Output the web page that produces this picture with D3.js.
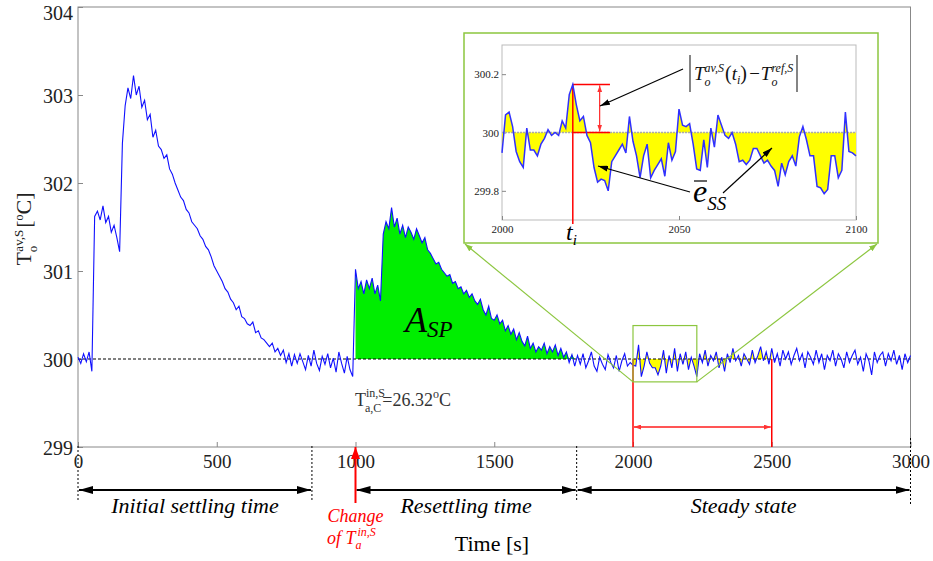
<!DOCTYPE html>
<head>
<meta charset="utf-8">
</head>
<style>
body { margin: 0; background: #fff; }
text { font-family: "Liberation Serif", "Times New Roman", serif; }
.frame { fill: none; stroke: #888; stroke-width: 1; }
.axis text { font-family: "Liberation Serif", serif; fill: #222; }
.axis line { stroke: #888; }
.axis path { display: none; }
.it { font-style: italic; }
</style>
<body>
<svg id="chart" width="933" height="561"></svg>

<script src="https://cdnjs.cloudflare.com/ajax/libs/d3/7.8.5/d3.min.js"></script>
<script>

// outlet temperature, one sample every 10 s from 0 to 3000 s
var tStep = 10;
var temps = [
  300.02, 299.95, 300.06, 299.97, 300.08, 299.86, 301.62, 301.68, 301.58, 301.74,
  301.55, 301.62, 301.44, 301.52, 301.38, 301.22, 302.45, 302.88, 303.08, 302.96,
  303.22, 303.00, 303.10, 302.86, 302.94, 302.72, 302.78, 302.52, 302.60, 302.42,
  302.38, 302.28, 302.32, 302.16, 302.10, 302.00, 301.92, 301.84, 301.80, 301.70,
  301.66, 301.56, 301.52, 301.48, 301.40, 301.36, 301.28, 301.24, 301.16, 301.06,
  301.00, 300.94, 300.88, 300.80, 300.76, 300.68, 300.64, 300.56, 300.60, 300.48,
  300.46, 300.40, 300.38, 300.42, 300.30, 300.32, 300.24, 300.22, 300.18, 300.14,
  300.18, 300.08, 300.12, 300.04, 300.10, 299.96, 300.06, 299.92, 300.05, 299.95,
  300.06, 299.97, 299.88, 300.04, 299.92, 300.10, 299.95, 299.87, 300.03, 299.94,
  300.06, 299.90, 300.01, 299.85, 300.08, 299.95, 299.84, 300.03, 299.88, 299.80,
  301.02, 300.80, 300.88, 300.74, 300.90, 300.80, 300.92, 300.74, 300.84, 300.66,
  301.42, 301.56, 301.48, 301.72, 301.50, 301.60, 301.42, 301.52, 301.38, 301.50,
  301.44, 301.36, 301.48, 301.40, 301.32, 301.38, 301.24, 301.20, 301.14, 301.08,
  301.10, 301.02, 300.98, 300.94, 300.96, 300.86, 300.88, 300.80, 300.82, 300.74,
  300.78, 300.70, 300.74, 300.66, 300.62, 300.68, 300.56, 300.50, 300.60, 300.46,
  300.44, 300.50, 300.40, 300.44, 300.32, 300.38, 300.28, 300.34, 300.22, 300.30,
  300.20, 300.15, 300.26, 300.12, 300.18, 300.08, 300.14, 300.10, 300.18, 300.06,
  300.14, 300.08, 300.16, 300.04, 300.12, 300.02, 300.08, 299.96, 300.05, 299.92,
  300.04, 299.94, 300.06, 299.90, 299.98, 300.08, 299.92, 299.86, 300.02, 299.94,
  299.88, 300.05, 299.96, 299.90, 300.04, 299.86, 299.98, 300.06, 299.92, 299.96,
  299.93, 299.92, 300.16, 299.80, 299.92, 300.08, 299.95, 299.90, 299.90, 299.82,
  299.92, 300.10, 299.84, 300.04, 299.90, 300.12, 299.86, 300.06, 299.94, 300.08,
  299.88, 300.02, 299.92, 299.80, 300.06, 299.96, 300.10, 299.92, 300.04, 299.98,
  300.08, 299.90, 300.02, 299.86, 300.06, 299.96, 300.12, 299.98, 300.04, 299.92,
  300.06, 300.00, 299.94, 300.10, 299.96, 300.04, 300.14, 299.98, 300.08, 299.94,
  300.12, 299.96, 300.06, 299.92, 300.10, 300.00, 300.08, 299.94, 300.04, 300.12,
  299.98, 300.06, 299.90, 300.08, 300.02, 299.94, 300.10, 299.96, 300.06, 299.88,
  300.04, 299.98, 300.10, 299.92, 300.06, 300.00, 299.90, 300.08, 299.96, 300.04,
  300.10, 299.94, 300.02, 299.86, 300.06, 299.98, 299.82, 300.08, 299.96, 300.04,
  300.08, 299.92, 300.06, 299.98, 300.10, 299.94, 300.04, 299.88, 300.06, 299.96,
  300.04
];

// zoomed detail, one sample per second from 2000 to 2100 s
var zoomStart = 2000;
var zoomTemps = [
  299.93, 300.06, 300.07, 300.02, 299.935, 299.90, 299.88, 300.015, 299.94, 299.94,
  299.92, 299.96, 299.98, 300.01, 299.99, 300.00, 299.99, 300.04, 300.015, 300.13,
  300.165, 300.095, 300.04, 300.055, 299.99, 299.965, 299.88, 299.83, 299.84, 299.835,
  299.80, 299.90, 299.92, 299.94, 299.96, 299.93, 300.055, 299.97, 299.92, 299.845,
  299.92, 299.96, 299.845, 299.87, 299.89, 299.91, 299.85, 299.965, 299.905, 299.935,
  300.08, 300.025, 300.02, 300.03, 299.96, 299.875, 299.87, 299.975, 299.88, 300.015,
  299.95, 300.06, 300.025, 299.99, 299.98, 300.00, 299.96, 299.90, 299.905, 299.89,
  299.905, 299.945, 299.945, 299.92, 299.895, 299.905, 299.885, 299.87, 299.815, 299.895,
  299.855, 299.90, 299.92, 299.885, 299.985, 300.02, 299.975, 299.92, 299.92, 299.815,
  299.81, 299.79, 299.805, 299.92, 299.92, 299.845, 299.87, 300.07, 299.935, 299.93,
  299.92
];

var refTemp = 300;
var xTicks = [0, 500, 1000, 1500, 2000, 2500, 3000];
var yTicks = [299, 300, 301, 302, 303, 304];
var zoomXTicks = [2000, 2050, 2100];
var zoomYTicks = [299.8, 300, 300.2];
var zoomWindowT = [2000, 2230];
var zoomWindowV = [299.74, 300.38];
var changeTime = 1000;
var spEnd = 1790;
var ssWindow = [2000, 2500];
var tiIndex = 20;

var phaseNames = ["Initial settling time", "Resettling time", "Steady state"];
var phaseStart = [0, 1000, 1797];
var phaseEnd = [843, 1797, 3000];
var phaseBounds = [0, 843, 1797, 3000];

var svg = d3.select("#chart");
var x = d3.scaleLinear().domain([0, 3000]).range([78, 910.5]);
var y = d3.scaleLinear().domain([299, 304]).range([447, 7]);

var series = temps.map(function(v, i) { return {t: i * tStep, v: v}; });
var zoomSeries = zoomTemps.map(function(v, i) { return {t: zoomStart + i, v: v}; });

// arrow heads
var defs = svg.append("defs");
function marker(id, color, w, h) {
  defs.append("marker").attr("id", id)
    .attr("viewBox", "0 0 " + w + " " + h)
    .attr("refX", w).attr("refY", h / 2)
    .attr("markerWidth", w).attr("markerHeight", h)
    .attr("markerUnits", "userSpaceOnUse")
    .attr("orient", "auto-start-reverse")
    .append("path").attr("d", "M0,0L" + w + "," + (h / 2) + "L0," + h + "Z").attr("fill", color);
}
marker("ahBlack", "#000", 14, 8);
marker("ahRed", "#f00", 12, 9);
marker("ahRedS", "#f33", 7, 5);
marker("ahThin", "#000", 10, 6);
marker("ahGreen", "#8cc63f", 8, 6);

// rich text helper: parts = [text, dy, dx, size, italic]
function rich(g, px, py, parts, size) {
  var t = g.append("text").attr("x", px).attr("y", py).style("font-size", size + "px");
  parts.forEach(function(p) {
    var s = t.append("tspan").text(p[0]);
    if (p[1]) s.attr("dy", p[1]);
    if (p[2]) s.attr("dx", p[2]);
    if (p[3]) s.style("font-size", p[3] + "px");
    if (p[4]) s.style("font-style", "italic");
  });
  return t;
}

// frame + axes
svg.append("rect").attr("class", "frame")
  .attr("x", x(0)).attr("y", y(304))
  .attr("width", x(3000) - x(0)).attr("height", y(299) - y(304));

svg.append("g").attr("class", "axis")
  .attr("transform", "translate(" + x(0) + ",0)")
  .call(d3.axisLeft(y).tickValues(yTicks).tickSize(-5).tickPadding(5).tickFormat(d3.format("d")))
  .selectAll("text").style("font-size", "20px")
  .attr("dy", function(d) { return d === 304 ? "0.62em" : "0.38em"; });

svg.append("g").attr("class", "axis")
  .attr("transform", "translate(0," + y(299) + ")")
  .call(d3.axisBottom(x).tickValues(xTicks).tickSize(-5).tickPadding(8).tickFormat(d3.format("d")))
  .selectAll("text").style("font-size", "19px");

// y label
var yl = svg.append("g").attr("transform", "translate(31,229) rotate(-90)");
rich(yl, 0, 0, [["T"], ["o", 6, 0, 13], ["av,S", -14, -6, 13], ["[", 8, 2], ["o", -8, 0, 12], ["C]", 8]], 22)
  .attr("text-anchor", "middle").attr("fill", "#222");

// filled areas
var green = series.filter(function(d) { return d.t >= changeTime && d.t <= spEnd; });
svg.append("path").datum(green)
  .attr("fill", "#00ee00")
  .attr("d", d3.area()
    .x(function(d) { return x(d.t); })
    .y0(y(refTemp))
    .y1(function(d) { return y(Math.max(d.v, refTemp)); }));

var yellow = series.filter(function(d) { return d.t >= ssWindow[0] && d.t <= ssWindow[1]; });
svg.append("path").datum(yellow)
  .attr("fill", "#ffff00")
  .attr("d", d3.area()
    .x(function(d) { return x(d.t); })
    .y0(y(refTemp))
    .y1(function(d) { return y(d.v); }));

// reference line
svg.append("line")
  .attr("x1", x(0)).attr("x2", x(3000))
  .attr("y1", y(refTemp)).attr("y2", y(refTemp))
  .attr("stroke", "#000").attr("stroke-dasharray", "3,2");

// main series
svg.append("path").datum(series)
  .attr("fill", "none")
  .attr("stroke", "#1010ff")
  .attr("stroke-width", 1.1)
  .attr("d", d3.line()
    .x(function(d) { return x(d.t); })
    .y(function(d) { return y(d.v); }));

// steady-state window
ssWindow.forEach(function(t) {
  svg.append("line")
    .attr("x1", x(t)).attr("x2", x(t))
    .attr("y1", y(refTemp)).attr("y2", y(299))
    .attr("stroke", "#f00").attr("stroke-width", 1.5);
});
svg.append("line")
  .attr("x1", x(ssWindow[0]) + 1).attr("x2", x(ssWindow[1]) - 1)
  .attr("y1", 427).attr("y2", 427)
  .attr("stroke", "#f55").attr("stroke-width", 2)
  .attr("marker-start", "url(#ahRedS)").attr("marker-end", "url(#ahRedS)");

// zoom window box and connectors
var box = {x0: 464, y0: 33, x1: 878, y1: 243};
svg.append("rect")
  .attr("x", x(zoomWindowT[0])).attr("y", y(zoomWindowV[1]))
  .attr("width", x(zoomWindowT[1]) - x(zoomWindowT[0]))
  .attr("height", y(zoomWindowV[0]) - y(zoomWindowV[1]))
  .attr("fill", "none").attr("stroke", "#8cc63f").attr("stroke-width", 1.2);
svg.append("line")
  .attr("x1", x(zoomWindowT[0])).attr("y1", y(zoomWindowV[0]))
  .attr("x2", box.x0 + 1).attr("y2", box.y1 + 1)
  .attr("stroke", "#8cc63f").attr("stroke-width", 1.2).attr("marker-end", "url(#ahGreen)");
svg.append("line")
  .attr("x1", x(zoomWindowT[1])).attr("y1", y(zoomWindowV[0]))
  .attr("x2", box.x1 - 1).attr("y2", box.y1 + 1)
  .attr("stroke", "#8cc63f").attr("stroke-width", 1.2).attr("marker-end", "url(#ahGreen)");

// inset
svg.append("rect")
  .attr("x", box.x0).attr("y", box.y0)
  .attr("width", box.x1 - box.x0).attr("height", box.y1 - box.y0)
  .attr("fill", "#fff").attr("stroke", "#8cc63f").attr("stroke-width", 1.5);

var xi = d3.scaleLinear().domain([2000, 2100]).range([502, 856]);
var yi = d3.scaleLinear().domain([299.7, 300.3]).range([220, 45]);

svg.append("rect")
  .attr("x", xi(2000)).attr("y", yi(300.3))
  .attr("width", xi(2100) - xi(2000)).attr("height", yi(299.7) - yi(300.3))
  .attr("fill", "none").attr("stroke", "#bbb");

svg.append("g").attr("class", "axis")
  .attr("transform", "translate(" + xi(2000) + ",0)")
  .call(d3.axisLeft(yi).tickValues(zoomYTicks).tickSize(-4).tickPadding(3).tickFormat(function(d) { return d === 300 ? "300" : d3.format(".1f")(d); }))
  .selectAll("text").style("font-size", "11px");
svg.append("g").attr("class", "axis")
  .attr("transform", "translate(0," + yi(299.7) + ")")
  .call(d3.axisBottom(xi).tickValues(zoomXTicks).tickSize(-4).tickPadding(5).tickFormat(d3.format("d")))
  .selectAll("text").style("font-size", "11px");

svg.append("path").datum(zoomSeries)
  .attr("fill", "#ffff00")
  .attr("d", d3.area()
    .x(function(d) { return xi(d.t); })
    .y0(yi(refTemp))
    .y1(function(d) { return yi(d.v); }));

svg.append("line")
  .attr("x1", xi(2000)).attr("x2", xi(2100))
  .attr("y1", yi(refTemp)).attr("y2", yi(refTemp))
  .attr("stroke", "#aaa").attr("stroke-width", 1.5).attr("stroke-dasharray", "2,1");

// t_i markers
var ti = zoomSeries[tiIndex];
svg.append("line")
  .attr("x1", xi(ti.t)).attr("x2", xi(ti.t))
  .attr("y1", yi(ti.v)).attr("y2", 224)
  .attr("stroke", "#f00").attr("stroke-width", 1.5);
[ti.v, refTemp].forEach(function(v) {
  svg.append("line")
    .attr("x1", xi(ti.t)).attr("x2", xi(2030.5))
    .attr("y1", yi(v)).attr("y2", yi(v))
    .attr("stroke", "#f00").attr("stroke-width", 1.5);
});

svg.append("path").datum(zoomSeries)
  .attr("fill", "none")
  .attr("stroke", "#3030ff")
  .attr("stroke-width", 1.5)
  .attr("d", d3.line()
    .x(function(d) { return xi(d.t); })
    .y(function(d) { return yi(d.v); }));

svg.append("line")
  .attr("x1", xi(2027.6)).attr("x2", xi(2027.6))
  .attr("y1", yi(ti.v) + 1).attr("y2", yi(refTemp) - 1)
  .attr("stroke", "#f00").attr("stroke-width", 1)
  .attr("marker-start", "url(#ahRedS)").attr("marker-end", "url(#ahRedS)");

rich(svg, 566, 240, [["t", 0, 0, 0, 1], ["i", 5, 0, 15, 1]], 24);

// formula
svg.append("line").attr("x1", 690).attr("x2", 690).attr("y1", 55).attr("y2", 92).attr("stroke", "#333").attr("stroke-width", 1.2);
svg.append("line").attr("x1", 797).attr("x2", 797).attr("y1", 55).attr("y2", 92).attr("stroke", "#333").attr("stroke-width", 1.2);
rich(svg, 694, 80, [
  ["T", 0, 0, 0, 1], ["o", 6, 0, 12, 1], ["av,S", -14, -6, 12, 1],
  ["(", 8, 1, 20], ["t", 0, 0, 0, 1], ["i", 4, 0, 12, 1], [")", -4, 0, 20],
  ["\u2212T", 0, 1, 0, 1], ["o", 6, 0, 12, 1], ["ref,S", -14, -6, 12, 1]
], 19).attr("fill", "#111");

// e_SS
rich(svg, 693, 202, [["e", 0, 0, 0, 1], ["SS", 8, 0, 19, 1]], 32);
svg.append("line").attr("x1", 694).attr("x2", 707).attr("y1", 181).attr("y2", 181).attr("stroke", "#000").attr("stroke-width", 1.2);

// pointer arrows
[[683, 69, 600, 106], [690, 192, 598, 166], [723, 193, 772, 148]].forEach(function(a) {
  svg.append("line")
    .attr("x1", a[0]).attr("y1", a[1]).attr("x2", a[2]).attr("y2", a[3])
    .attr("stroke", "#000").attr("stroke-width", 1.2)
    .attr("marker-end", "url(#ahThin)");
});

// A_SP label
rich(svg, 405, 332, [["A", 0, 0, 0, 1], ["SP", 5, 0, 23, 1]], 36);

// inlet temperature note
rich(svg, 355, 406, [["T"], ["in,S", -9, 0, 12], ["a,C", 15, -20, 12], ["=26.32", -6, 1], ["o", -8, 0, 12], ["C", 8]], 18)
  .attr("fill", "#333");

// phase annotations
phaseBounds.forEach(function(t, i) {
  svg.append("line")
    .attr("x1", x(t)).attr("x2", x(t))
    .attr("y1", i === 3 ? 438 : 446).attr("y2", i === 3 ? 505 : 501)
    .attr("stroke", "#000").attr("stroke-dasharray", "2,2");
});
phaseNames.forEach(function(name, i) {
  svg.append("line")
    .attr("x1", x(phaseStart[i]) + 1).attr("x2", x(phaseEnd[i]) - 1)
    .attr("y1", 490).attr("y2", 490)
    .attr("stroke", "#000").attr("stroke-width", 2)
    .attr("marker-start", "url(#ahBlack)").attr("marker-end", "url(#ahBlack)");
  svg.append("text")
    .attr("x", x((phaseStart[i] + phaseEnd[i]) / 2)).attr("y", 513)
    .attr("text-anchor", "middle").attr("class", "it")
    .style("font-size", "22px").text(name);
});

// change of inlet temperature
svg.append("line")
  .attr("x1", x(changeTime)).attr("x2", x(changeTime))
  .attr("y1", 503).attr("y2", 447)
  .attr("stroke", "#f00").attr("stroke-width", 2)
  .attr("marker-end", "url(#ahRed)");
svg.append("text").attr("x", x(changeTime)).attr("y", 522)
  .attr("text-anchor", "middle").attr("class", "it").attr("fill", "#f00")
  .style("font-size", "18px").text("Change");
rich(svg, 327, 544, [["of T", 0, 0, 0, 1], ["a", 5, 0, 12, 1], ["in,S", -13, -4, 12, 1]], 18).attr("fill", "#f00");

svg.append("text").attr("x", 492).attr("y", 551)
  .attr("text-anchor", "middle").style("font-size", "22px").text("Time [s]");

</script>
</body>
